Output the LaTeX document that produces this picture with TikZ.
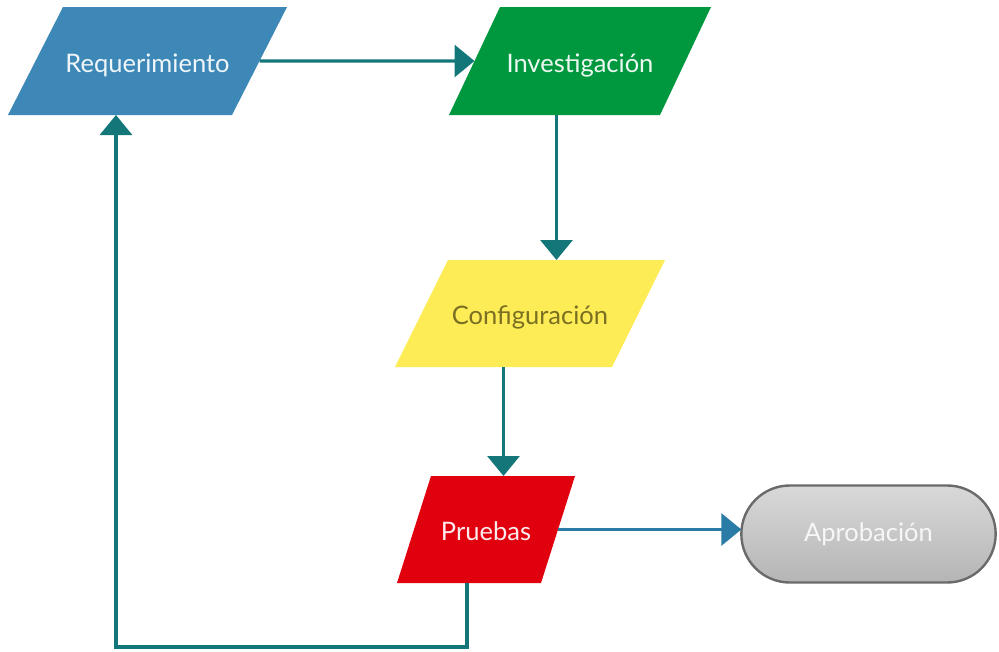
\documentclass[tikz,border=0pt]{standalone}
\usepackage{fontspec}
\setmainfont{Lato}
\usetikzlibrary{shapes.geometric,shapes.misc,arrows.meta,calc}

\definecolor{reqblue}{HTML}{3E88B8}
\definecolor{invgreen}{HTML}{00983F}
\definecolor{cfgyellow}{HTML}{FDEC55}
\definecolor{prured}{HTML}{E0000E}
\definecolor{flowteal}{HTML}{13777A}
\definecolor{flowblue}{HTML}{2A7BA6}
\definecolor{cfgtext}{HTML}{7A6F22}
\definecolor{aprborder}{HTML}{6A6A6A}

\tikzset{
  parabox/.style={trapezium, draw=none, inner sep=0pt, outer sep=0pt,
    align=center, font=\fontsize{25.5}{30}\selectfont},
  flow/.style={draw=flowteal, line width=3.2pt,
    -{Triangle[length=20pt,width=32pt]}},
  flowb/.style={flow, draw=flowblue},
  endbox/.style={rounded rectangle, draw=aprborder, line width=2.4pt,
    top color=black!15, bottom color=black!29, outer sep=0pt,
    minimum width=261pt, minimum height=97pt,
    text=black!3, font=\fontsize{25.5}{30}\selectfont},
}

\begin{document}
\begin{tikzpicture}[x=1pt,y=-1pt]
  \useasboundingbox (0,0) rectangle (999,651);

  % process steps
  \node[parabox, fill=reqblue, text=white!92!reqblue,
        trapezium left angle=63.0, trapezium right angle=117.0,
        text width=169pt, text height=65pt, text depth=43pt]
        (req) at (147.5,61) {Requerimiento};
  \node[parabox, fill=invgreen, text=white!93!invgreen,
        trapezium left angle=64.72, trapezium right angle=115.28,
        text width=160pt, text height=65pt, text depth=43pt]
        (inv) at (580,61) {Investigación};
  \node[parabox, fill=cfgyellow, text=cfgtext,
        trapezium left angle=63.65, trapezium right angle=116.35,
        text width=164pt, text height=64.5pt, text depth=42.5pt]
        (cfg) at (530,313.5) {Configuración};
  \node[parabox, fill=prured, text=white!92!prured,
        trapezium left angle=72.37, trapezium right angle=107.63,
        text width=110pt, text height=64.5pt, text depth=42.5pt]
        (pru) at (486,529.5) {Pruebas};

  % terminal
  \node[endbox] (apr) at (868.5,534) {\raisebox{-3pt}{Aprobación}};

  % edge midpoints of the parallelograms
  \coordinate (reqB) at ($(req.bottom left corner)!0.5!(req.bottom right corner)$);
  \coordinate (invB) at ($(inv.bottom left corner)!0.5!(inv.bottom right corner)$);
  \coordinate (cfgT) at ($(cfg.top left corner)!0.5!(cfg.top right corner)$);
  \coordinate (cfgB) at ($(cfg.bottom left corner)!0.5!(cfg.bottom right corner)$);
  \coordinate (pruB) at ($(pru.bottom left corner)!0.5!(pru.bottom right corner)$);

  % connectors
  \draw[flow] (req) -- (inv);
  \draw[flow] (invB -| cfgT) -- (cfgT);
  \draw[flow] (cfgB) -- (cfgB |- pru.north);
  \draw[flowb] (pru.east) -- (pru.east -| apr.west);
  \draw[flow] ([xshift=-2pt]pruB) -- ++(0,64) -| ([xshift=-4pt]reqB);
\end{tikzpicture}
\end{document}
